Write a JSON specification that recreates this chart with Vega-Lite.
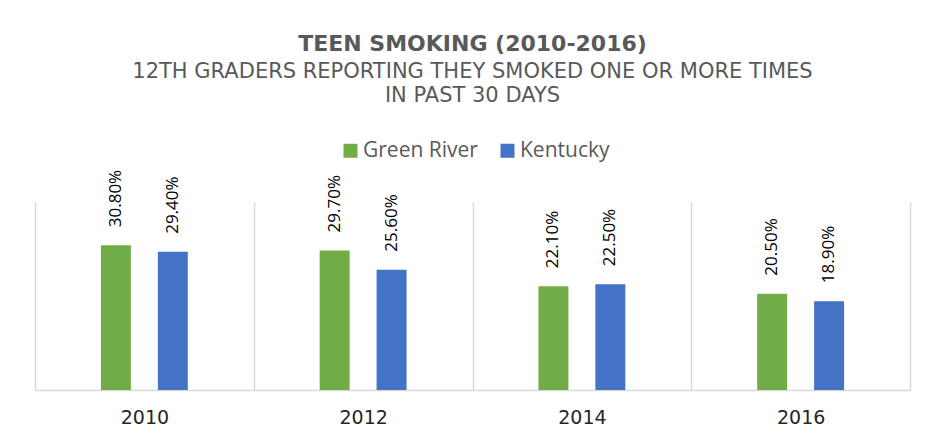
{
  "$schema": "https://vega.github.io/schema/vega-lite/v6.json",
  "width": 875,
  "height": 188,
  "autosize": "none",
  "padding": {"left": 35, "top": 202, "right": 20, "bottom": 56},
  "background": "white",
  "config": {
    "font": "Open Sans",
    "view": {"stroke": null}
  },
  "title": {
    "text": "TEEN SMOKING (2010-2016)",
    "subtitle": ["12TH GRADERS REPORTING THEY SMOKED ONE OR MORE TIMES", "IN PAST 30 DAYS"],
    "anchor": "middle",
    "font": "DejaVu Sans",
    "fontSize": 22,
    "fontWeight": "bold",
    "color": "#595959",
    "subtitleFont": "DejaVu Sans",
    "subtitleFontSize": 21,
    "subtitleFontWeight": "normal",
    "subtitleColor": "#595959",
    "subtitleLineHeight": 24,
    "subtitlePadding": 5,
    "offset": 33
  },
  "data": {
    "values": [
      {"year": "2010", "region": "Green River", "value": 30.8, "label": "30.80%"},
      {"year": "2010", "region": "Kentucky", "value": 29.4, "label": "29.40%"},
      {"year": "2012", "region": "Green River", "value": 29.7, "label": "29.70%"},
      {"year": "2012", "region": "Kentucky", "value": 25.6, "label": "25.60%"},
      {"year": "2014", "region": "Green River", "value": 22.1, "label": "22.10%"},
      {"year": "2014", "region": "Kentucky", "value": 22.5, "label": "22.50%"},
      {"year": "2016", "region": "Green River", "value": 20.5, "label": "20.50%"},
      {"year": "2016", "region": "Kentucky", "value": 18.9, "label": "18.90%"}
    ]
  },
  "encoding": {
    "x": {
      "field": "year",
      "type": "nominal",
      "scale": {"paddingInner": 0, "paddingOuter": 0},
      "axis": {
        "title": null,
        "labelAngle": 0,
        "labelFont": "DejaVu Sans",
        "labelFontSize": 19,
        "labelColor": "#262626",
        "labelPadding": 18,
        "domainColor": "#d9d9d9",
        "domainWidth": 1.5,
        "ticks": false,
        "grid": true,
        "gridColor": "#d9d9d9",
        "gridWidth": 1.5,
        "tickBand": "extent"
      }
    },
    "xOffset": {
      "field": "region",
      "type": "nominal",
      "scale": {"domain": ["_pad1", "Green River", "Kentucky", "_pad2"], "paddingInner": 0.4737, "paddingOuter": 0.158}
    },
    "y": {
      "field": "value",
      "type": "quantitative",
      "scale": {"domain": [0, 40]},
      "axis": null
    }
  },
  "layer": [
    {
      "mark": {"type": "bar"},
      "encoding": {
        "color": {
          "field": "region",
          "type": "nominal",
          "scale": {"domain": ["Green River", "Kentucky"], "range": ["#70AD47", "#4472C4"]},
          "legend": {
            "title": null,
            "orient": "none",
            "direction": "horizontal",
            "legendX": 305,
            "legendY": -62,
            "symbolType": "square",
            "symbolSize": 196,
            "symbolStrokeWidth": 0,
            "labelFont": "Open Sans",
            "labelFontSize": 21,
            "labelColor": "#595959",
            "labelOffset": 2,
            "columnPadding": 19,
            "padding": 0
          }
        }
      }
    },
    {
      "mark": {"type": "text", "angle": 270, "align": "left", "baseline": "middle", "dx": 18, "fontSize": 17, "font": "Open Sans", "color": "#000000"},
      "encoding": {
        "text": {"field": "label"}
      }
    }
  ]
}
